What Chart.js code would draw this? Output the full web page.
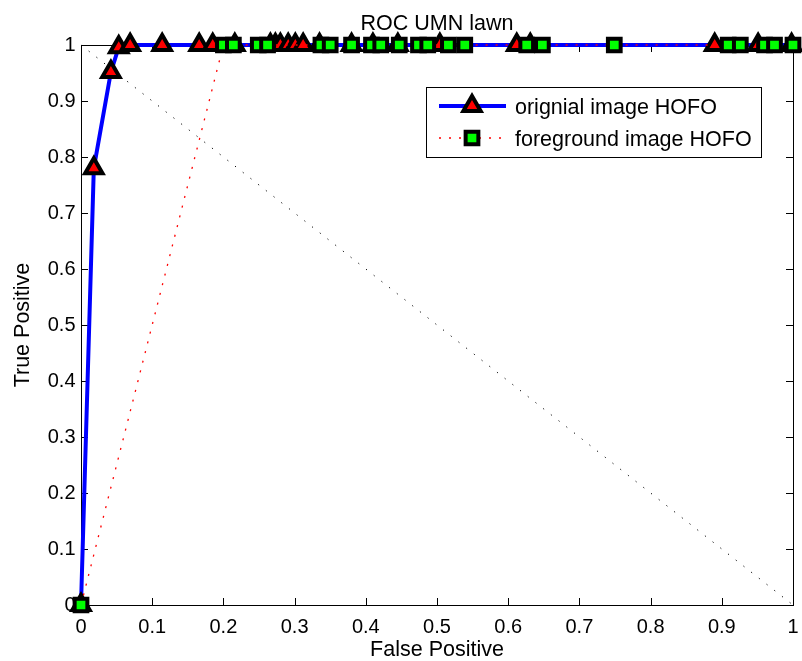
<!DOCTYPE html>
<html>
<head>
<meta charset="utf-8">
<script src="https://cdn.jsdelivr.net/npm/chart.js@4/dist/chart.umd.min.js"></script>
<style>
  html, body { margin: 0; padding: 0; background: #fff; }
  #wrap { width: 802px; height: 661px; position: relative; }
</style>
</head>
<body>
<div id="wrap"><canvas id="roc"></canvas></div>
<script>
// ── Data ──────────────────────────────────────────────────────
const origFP = [0, 0.018, 0.042, 0.053, 0.069, 0.114, 0.166, 0.185, 0.216, 0.266, 0.273,
                0.280, 0.291, 0.301, 0.312, 0.335, 0.380, 0.410, 0.445, 0.504, 0.612,
                0.631, 0.890, 0.951, 0.998];
const origTP = [0, 0.78, 0.952, 0.996, 1, 1, 1, 1, 1, 1, 1,
                1, 1, 1, 1, 1, 1, 1, 1, 1, 1,
                1, 1, 1, 1];

const fgFP = [0, 0.200, 0.214, 0.249, 0.262, 0.337, 0.350, 0.380, 0.408, 0.421, 0.447,
              0.474, 0.487, 0.516, 0.539, 0.626, 0.648, 0.749, 0.909, 0.926, 0.960,
              0.974, 1.0];
const fgTP = [0, 1, 1, 1, 1, 1, 1, 1, 1, 1, 1,
              1, 1, 1, 1, 1, 1, 1, 1, 1, 1,
              1, 1];

const chanceFP = [0, 1];
const chanceTP = [1, 0];

const xTickVals = [0, 0.1, 0.2, 0.3, 0.4, 0.5, 0.6, 0.7, 0.8, 0.9, 1];
const yTickVals = [0, 0.1, 0.2, 0.3, 0.4, 0.5, 0.6, 0.7, 0.8, 0.9, 1];

const seriesNames = ['orignial image HOFO', 'foreground image HOFO'];
const titleText = 'ROC UMN lawn';

const FONT = "'Liberation Sans', Arial, Helvetica, sans-serif";
const FS_TICK = 20;
const FS_LABEL = 21.5;

const pts = (xs, ys) => xs.map((x, i) => ({ x, y: ys[i] }));

// ── Axes box + inward ticks (MATLAB look) ─────────────────────
const boxPlugin = {
    id: 'box',
    beforeDatasetsDraw(chart) {
        const { ctx, chartArea: a, scales } = chart;
        const len = 7;
        ctx.save();
        ctx.strokeStyle = '#000';
        ctx.lineWidth = 1;
        ctx.strokeRect(a.left + 0.5, a.top + 0.5, a.right - a.left, a.bottom - a.top);
        ctx.beginPath();
        xTickVals.forEach(v => {
            const px = Math.round(scales.x.getPixelForValue(v)) + 0.5;
            ctx.moveTo(px, a.bottom); ctx.lineTo(px, a.bottom - len);
            ctx.moveTo(px, a.top); ctx.lineTo(px, a.top + len);
        });
        yTickVals.forEach(v => {
            const py = Math.round(scales.y.getPixelForValue(v)) + 0.5;
            ctx.moveTo(a.left, py); ctx.lineTo(a.left + len, py);
            ctx.moveTo(a.right, py); ctx.lineTo(a.right - len, py);
        });
        ctx.stroke();

        // title, centred over the axes like MATLAB does
        ctx.fillStyle = '#000';
        ctx.font = `${FS_LABEL}px ${FONT}`;
        ctx.textAlign = 'center';
        ctx.textBaseline = 'alphabetic';
        ctx.fillText(titleText, (a.left + a.right) / 2, 30);
        ctx.restore();
    }
};

// ── Legend with line sample + marker ──────────────────────────
const legendPlugin = {
    id: 'matLegend',
    afterDatasetsDraw(chart) {
        const { ctx } = chart;
        const bx = 426, by = 87, bw = 335, bh = 70;
        ctx.save();
        ctx.fillStyle = '#fff';
        ctx.fillRect(bx, by, bw, bh);
        ctx.strokeStyle = '#000';
        ctx.lineWidth = 1;
        ctx.strokeRect(bx + 0.5, by + 0.5, bw, bh);

        const rows = [106, 138];
        [0, 1].forEach(i => {
            const ds = chart.data.datasets[i];
            const y = rows[i];
            ctx.save();
            ctx.strokeStyle = ds.borderColor;
            ctx.lineWidth = ds.borderWidth;
            ctx.setLineDash(ds.borderDash || []);
            ctx.beginPath();
            ctx.moveTo(439, y); ctx.lineTo(506, y);
            ctx.stroke();
            ctx.restore();
            ctx.fillStyle = ds.pointBackgroundColor;
            ctx.strokeStyle = ds.pointBorderColor;
            ctx.lineWidth = ds.pointBorderWidth;
            Chart.helpers.drawPoint(ctx, {
                pointStyle: ds.pointStyle,
                radius: ds.pointRadius,
                borderWidth: ds.pointBorderWidth,
                rotation: 0
            }, 472, y);
            ctx.fillStyle = '#000';
            ctx.font = `${FS_LABEL}px ${FONT}`;
            ctx.textBaseline = 'alphabetic';
            ctx.textAlign = 'left';
            ctx.fillText(seriesNames[i], 515, y + 8);
        });
        ctx.restore();
    }
};

new Chart(document.getElementById('roc'), {
    type: 'scatter',
    data: {
        datasets: [
            {
                label: seriesNames[0],
                data: pts(origFP, origTP),
                showLine: true,
                borderColor: '#0000ff',
                borderWidth: 4,
                pointStyle: 'triangle',
                pointRadius: 10,
                pointBackgroundColor: '#ff0000',
                pointBorderColor: '#000',
                pointBorderWidth: 4,
                order: 2
            },
            {
                label: seriesNames[1],
                data: pts(fgFP, fgTP),
                showLine: true,
                borderColor: '#ff0000',
                borderWidth: 1.3,
                borderDash: [2, 8],
                pointStyle: 'rect',
                pointRadius: 9,
                pointBackgroundColor: '#00ff00',
                pointBorderColor: '#000',
                pointBorderWidth: 4,
                order: 1
            },
            {
                label: 'chance',
                data: pts(chanceFP, chanceTP),
                showLine: true,
                borderColor: '#000',
                borderWidth: 1,
                borderDash: [1.2, 8.6],
                pointRadius: 0,
                order: 3
            }
        ]
    },
    options: {
        responsive: true,
        maintainAspectRatio: false,
        animation: false,
        events: [],
        clip: false,
        layout: { autoPadding: false, padding: { left: 0, right: 9, top: 45, bottom: 0 } },
        plugins: {
            legend: { display: false },
            tooltip: { enabled: false },
            title: { display: false }
        },
        scales: {
            x: {
                type: 'linear',
                min: 0,
                max: 1,
                afterBuildTicks: s => { s.ticks = xTickVals.map(v => ({ value: v })); },
                afterFit: s => { s.height = 56; s.paddingLeft = 0; s.paddingRight = 0; },
                ticks: {
                    color: '#000',
                    padding: 10,
                    maxRotation: 0,
                    font: { family: FONT, size: FS_TICK },
                    callback: v => String(v)
                },
                grid: { display: false, drawTicks: false },
                border: { display: false },
                title: {
                    display: true,
                    text: 'False Positive',
                    color: '#000',
                    font: { family: FONT, size: FS_LABEL, lineHeight: 1.0 },
                    padding: { top: 0, bottom: 0 }
                }
            },
            y: {
                type: 'linear',
                min: 0,
                max: 1,
                afterBuildTicks: s => { s.ticks = yTickVals.map(v => ({ value: v })); },
                afterFit: s => { s.width = 81; s.paddingTop = 0; s.paddingBottom = 0; },
                ticks: {
                    color: '#000',
                    padding: 5.5,
                    font: { family: FONT, size: FS_TICK },
                    callback: v => String(v)
                },
                grid: { display: false, drawTicks: false },
                border: { display: false },
                title: {
                    display: true,
                    text: 'True Positive',
                    color: '#000',
                    font: { family: FONT, size: FS_LABEL },
                    padding: { top: 10, bottom: 0 }
                }
            }
        }
    },
    plugins: [boxPlugin, legendPlugin]
});
</script>
</body>
</html>
